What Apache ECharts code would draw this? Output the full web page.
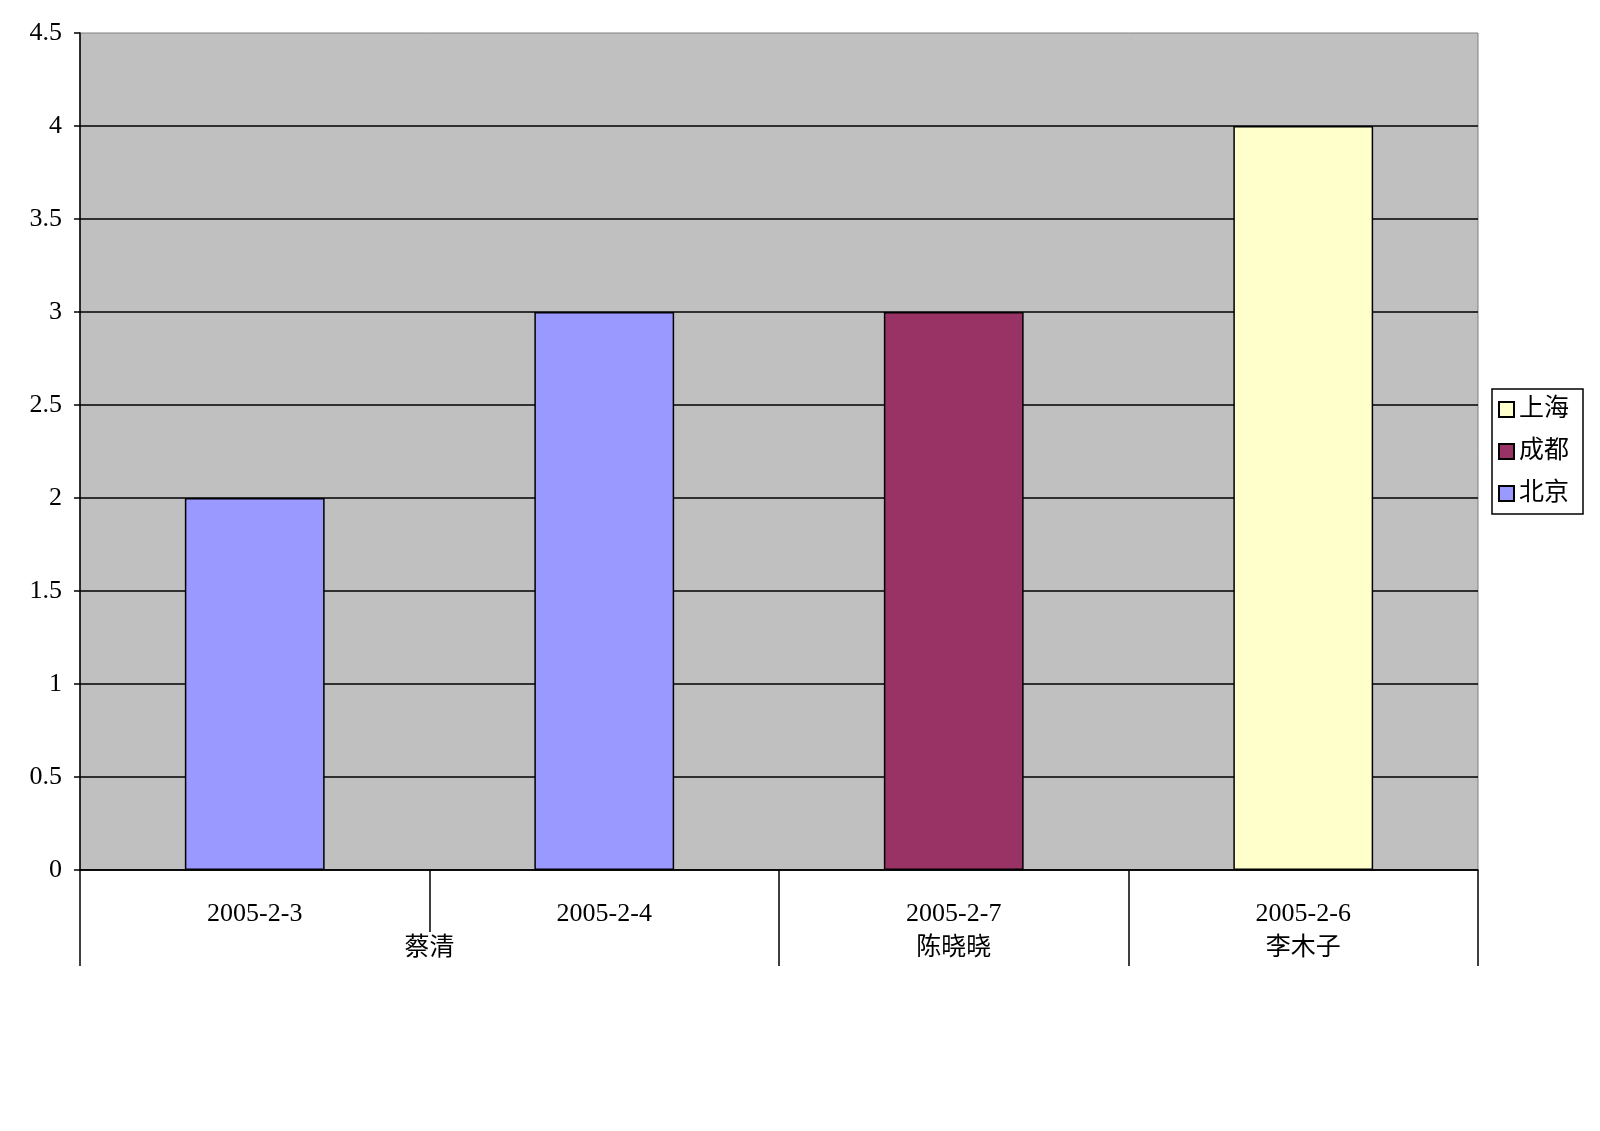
<!DOCTYPE html>
<html><head><meta charset="utf-8">
<script src="https://cdn.jsdelivr.net/npm/echarts@6/dist/echarts.min.js"></script>
<style>html,body{margin:0;padding:0;background:#fff}#c{width:1600px;height:1131px}</style>
</head><body><div id="c"></div>
<script>
const dates = ['2005-2-3', '2005-2-4', '2005-2-7', '2005-2-6'];
const groupSlots = ['', '', '蔡清', '', '', '陈晓晓', '', '李木子', ''];
const groupBoundaries = [0, 4, 6, 8];
const beijing = [2, 3, '-', '-'];
const chengdu = ['-', '-', 3, '-'];
const shanghai = ['-', '-', '-', 4];
const legendOrder = ['上海', '成都', '北京'];
const yTicks = {min: 0, max: 4.5, interval: 0.5};

const FONT = "'Liberation Serif', 'Noto Sans CJK SC', serif";
const chart = echarts.init(document.getElementById('c'), null, {renderer: 'canvas'});
const barStyle = c => ({color: c, borderColor: '#000', borderWidth: 1.5});
chart.setOption({
  animation: false,
  backgroundColor: '#fff',
  textStyle: {fontFamily: FONT},
  grid: {left: 80, top: 33, right: 122, bottom: 261, show: true,
    backgroundColor: '#C0C0C0', borderColor: '#808080', borderWidth: 1},
  legend: {
    orient: 'vertical', left: 1492, top: 389,
    data: legendOrder,
    backgroundColor: '#fff', borderColor: '#000', borderWidth: 1.5,
    padding: [8, 14, 8, 6], itemGap: 17, itemWidth: 15, itemHeight: 15,
    textStyle: {fontSize: 25, fontFamily: FONT, color: '#000'},
    icon: 'rect'
  },
  xAxis: [{
    type: 'category', data: dates, position: 'bottom',
    axisLine: {show: true, lineStyle: {color: '#000', width: 1.5}},
    axisTick: {show: true, interval: 0, length: 62, lineStyle: {color: '#000', width: 1.5}},
    axisLabel: {interval: 0, margin: 31, fontSize: 26, color: '#000', fontFamily: FONT}
  }, {
    type: 'category', data: groupSlots, position: 'bottom', boundaryGap: false,
    axisLine: {show: false},
    axisTick: {show: true, length: 96, interval: i => groupBoundaries.includes(i),
      lineStyle: {color: '#000', width: 1.5}},
    axisLabel: {interval: 0, margin: 66, fontSize: 25, color: '#000', fontFamily: FONT}
  }],
  yAxis: {
    type: 'value', min: yTicks.min, max: yTicks.max, interval: yTicks.interval,
    axisLine: {show: true, lineStyle: {color: '#000', width: 1.5}},
    axisTick: {show: true, length: 6, lineStyle: {color: '#000', width: 1.5}},
    axisLabel: {margin: 18, fontSize: 26, color: '#000', fontFamily: FONT},
    splitLine: {show: true, showMaxLine: false, lineStyle: {color: '#000', width: 1.5}}
  },
  series: [
    {name: '北京', type: 'bar', stack: 't', data: beijing, barWidth: '40%', itemStyle: barStyle('#9999FF')},
    {name: '成都', type: 'bar', stack: 't', data: chengdu, barWidth: '40%', itemStyle: barStyle('#993366')},
    {name: '上海', type: 'bar', stack: 't', data: shanghai, barWidth: '40%', itemStyle: barStyle('#FFFFCC')}
  ]
});
</script></body></html>
